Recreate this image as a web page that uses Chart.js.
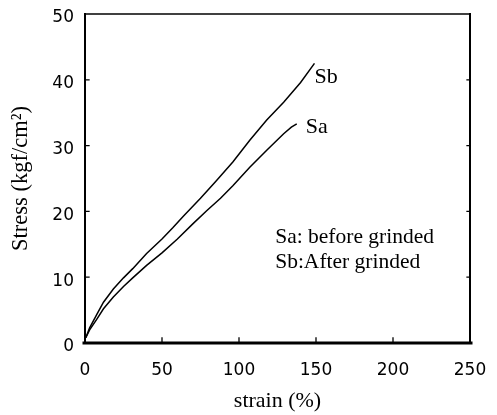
<!DOCTYPE html>
<html>
<head>
<meta charset="utf-8">
<script src="https://cdn.jsdelivr.net/npm/chart.js@4.4.0/dist/chart.umd.min.js"></script>
<style>
  body { margin: 0; background: #fff; }
  #wrap { width: 497px; height: 415px; }
</style>
</head>
<body>
<div id="wrap"><canvas id="chart" width="497" height="415"></canvas></div>
<script>
// strain (%) / stress (kgf/cm2)
const sbStrain = [0.5, 3, 7.6, 12, 18.4, 25, 31, 40, 50, 57, 64, 75, 85, 96, 107, 118, 129, 140, 149];
const sbStress = [0.8, 2.3, 4.3, 6.2, 8.2, 9.9, 11.3, 13.6, 15.8, 17.5, 19.3, 22.0, 24.6, 27.5, 30.8, 33.9, 36.6, 39.6, 42.5];

const saStrain = [0.5, 3, 7.6, 12, 18.4, 25, 31, 40, 50, 60, 70, 79, 88, 96, 107, 118, 129, 134, 137.5];
const saStress = [0.8, 2.0, 3.6, 5.2, 7.0, 8.6, 9.9, 11.8, 13.7, 15.8, 18.1, 20.1, 22.0, 23.9, 26.7, 29.3, 31.8, 32.8, 33.3];

const xTicks = [0, 50, 100, 150, 200, 250];
const yTicks = [0, 10, 20, 30, 40, 50];

const seriesLabels = ['Sb', 'Sa'];
const legendLines = ['Sa: before grinded', 'Sb:After grinded'];

function toPoints(xs, ys) {
    return xs.map(function(x, i) { return { x: x, y: ys[i] }; });
}

const serif = '"Liberation Serif", "Times New Roman", serif';
const sans = '"DejaVu Sans", sans-serif';

// frame, inner tick marks and text annotations
const framePlugin = {
    id: 'frame',
    afterDraw: function(chart) {
        const ctx = chart.ctx;
        const a = chart.chartArea;
        const xs = chart.scales.x;
        const ys = chart.scales.y;
        ctx.save();
        ctx.strokeStyle = '#000';
        ctx.lineCap = 'square';

        ctx.lineWidth = 1.5;
        ctx.beginPath();
        ctx.moveTo(a.left, a.top);
        ctx.lineTo(a.right, a.top);
        ctx.stroke();

        ctx.lineWidth = 2;
        ctx.beginPath();
        ctx.moveTo(a.left, a.top);
        ctx.lineTo(a.left, a.bottom);
        ctx.moveTo(a.right, a.top);
        ctx.lineTo(a.right, a.bottom);
        ctx.stroke();

        ctx.lineWidth = 3;
        ctx.beginPath();
        ctx.moveTo(a.left - 1, a.bottom);
        ctx.lineTo(a.right + 1, a.bottom);
        ctx.stroke();

        ctx.lineWidth = 1.3;
        ctx.beginPath();
        xTicks.slice(1, -1).forEach(function(v) {
            const px = xs.getPixelForValue(v);
            ctx.moveTo(px, a.bottom);
            ctx.lineTo(px, a.bottom - 5);
        });
        yTicks.slice(1, -1).forEach(function(v) {
            const py = ys.getPixelForValue(v);
            ctx.moveTo(a.left, py);
            ctx.lineTo(a.left + 4, py);
            ctx.moveTo(a.right, py);
            ctx.lineTo(a.right - 3, py);
        });
        ctx.stroke();

        ctx.fillStyle = '#000';
        ctx.font = '22px ' + serif;
        ctx.textAlign = 'left';
        ctx.textBaseline = 'middle';
        const sbEnd = sbStrain.length - 1;
        const saEnd = saStrain.length - 1;
        ctx.fillText(seriesLabels[0], xs.getPixelForValue(sbStrain[sbEnd]), ys.getPixelForValue(sbStress[sbEnd]) + 14);
        ctx.fillText(seriesLabels[1], xs.getPixelForValue(saStrain[saEnd]) + 9, ys.getPixelForValue(saStress[saEnd]) + 3);

        ctx.font = '21.5px ' + serif;
        ctx.fillText(legendLines[0], xs.getPixelForValue(123.5), ys.getPixelForValue(16));
        ctx.fillText(legendLines[1], xs.getPixelForValue(123.5), ys.getPixelForValue(12.3));
        ctx.restore();
    }
};

const lineStyle = {
    showLine: true,
    borderColor: '#000',
    borderWidth: 1.5,
    pointRadius: 0,
    tension: 0,
    fill: false
};

new Chart(document.getElementById('chart'), {
    type: 'scatter',
    data: {
        datasets: [
            Object.assign({ label: seriesLabels[0], data: toPoints(sbStrain, sbStress) }, lineStyle),
            Object.assign({ label: seriesLabels[1], data: toPoints(saStrain, saStress) }, lineStyle)
        ]
    },
    options: {
        responsive: false,
        animation: false,
        layout: { padding: { left: 0, right: 27, top: 14, bottom: 0 } },
        plugins: {
            legend: { display: false },
            tooltip: { enabled: false }
        },
        scales: {
            x: {
                type: 'linear',
                min: 0,
                max: 250,
                afterBuildTicks: function(scale) {
                    scale.ticks = xTicks.map(function(v) { return { value: v }; });
                },
                afterFit: function(scale) {
                    scale.height = 72;
                    scale.paddingLeft = 0;
                    scale.paddingRight = 0;
                },
                grid: { display: false, drawTicks: false },
                border: { display: false },
                ticks: {
                    color: '#000',
                    font: { family: sans, size: 17 },
                    padding: 17,
                    maxRotation: 0,
                    autoSkip: false
                },
                title: {
                    display: true,
                    text: 'strain (%)',
                    color: '#000',
                    font: { family: serif, size: 22 },
                    padding: { top: 0, bottom: 1 }
                }
            },
            y: {
                type: 'linear',
                min: 0,
                max: 50,
                afterBuildTicks: function(scale) {
                    scale.ticks = yTicks.map(function(v) { return { value: v }; });
                },
                afterFit: function(scale) {
                    scale.width = 85;
                    scale.paddingTop = 0;
                    scale.paddingBottom = 0;
                },
                grid: { display: false, drawTicks: false },
                border: { display: false },
                ticks: {
                    color: '#000',
                    font: { family: sans, size: 17 },
                    padding: 11,
                    labelOffset: 4,
                    autoSkip: false
                },
                title: {
                    display: true,
                    text: 'Stress (kgf/cm²)',
                    color: '#000',
                    font: { family: serif, size: 22.5 },
                    padding: { top: 8, bottom: 0 }
                }
            }
        }
    },
    plugins: [framePlugin]
});
</script>
</body>
</html>
